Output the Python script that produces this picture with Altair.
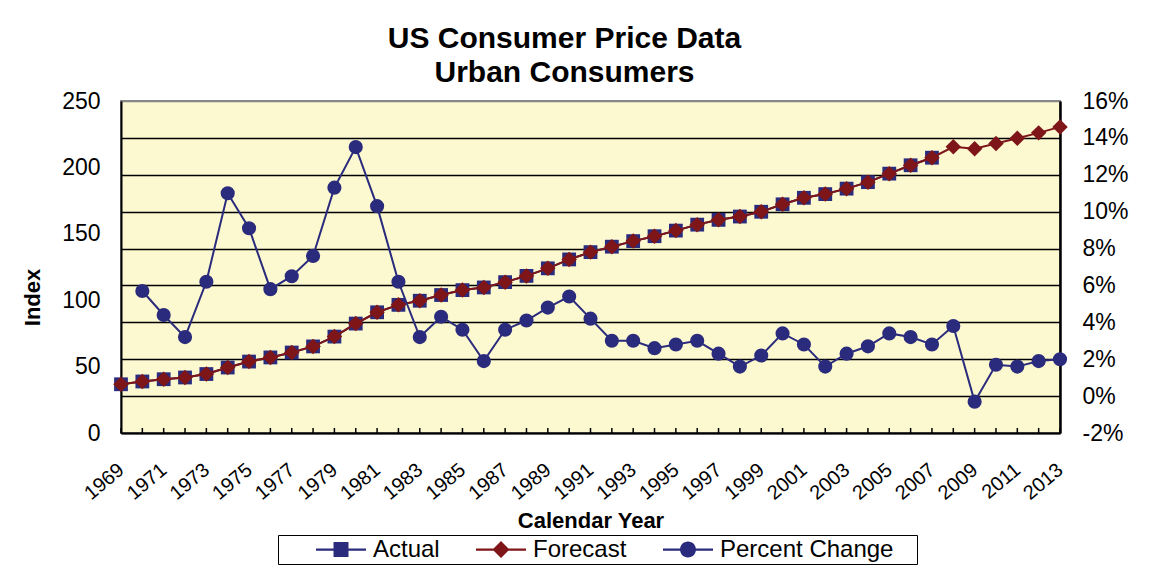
import altair as alt
import pandas as pd

# ---------------- data ----------------
years = list(range(1969, 2014))

actual_years = list(range(1969, 2008))
actual_cpi = [36.7, 38.8, 40.5, 41.8, 44.4, 49.3, 53.8, 56.9, 60.6, 65.2,
              72.6, 82.4, 90.9, 96.5, 99.6, 103.9, 107.6, 109.6, 113.6, 118.3,
              124.0, 130.7, 136.2, 140.3, 144.5, 148.2, 152.4, 156.9, 160.5, 163.0,
              166.6, 172.2, 177.1, 179.9, 184.0, 188.9, 195.3, 201.6, 207.3]

forecast_years = list(range(1969, 2014))
forecast_cpi = [36.7, 38.8, 40.5, 41.8, 44.4, 49.3, 53.8, 56.9, 60.6, 65.2,
                72.6, 82.4, 90.9, 96.5, 99.6, 103.9, 107.6, 109.6, 113.6, 118.3,
                124.0, 130.7, 136.2, 140.3, 144.5, 148.2, 152.4, 156.9, 160.5, 163.0,
                166.6, 172.2, 177.1, 179.9, 184.0, 188.9, 195.3, 201.6, 207.3,
                215.5, 214.0, 218.0, 222.0, 226.0, 230.5]

pct_years = list(range(1970, 2014))
pct_change = [5.7, 4.4, 3.2, 6.2, 11.0, 9.1, 5.8, 6.5, 7.6, 11.3,
              13.5, 10.3, 6.2, 3.2, 4.3, 3.6, 1.9, 3.6, 4.1, 4.8,
              5.4, 4.2, 3.0, 3.0, 2.6, 2.8, 3.0, 2.3, 1.6, 2.2,
              3.4, 2.8, 1.6, 2.3, 2.7, 3.4, 3.2, 2.8, 3.8, -0.3,
              1.7, 1.6, 1.9, 2.0]

series_names = ["Actual", "Forecast", "Percent Change"]
left_ticks = [0, 50, 100, 150, 200, 250]
right_ticks = [-2, 0, 2, 4, 6, 8, 10, 12, 14, 16]

# ---------------- style ----------------
NAVY = "#2A2B7C"
RED = "#7E1518"
BG = "#FCF8D0"
FONT = "Liberation Sans"
W, H = 939, 332

df_a = pd.DataFrame({"year": actual_years, "value": actual_cpi})
df_f = pd.DataFrame({"year": forecast_years, "value": forecast_cpi})
df_p = pd.DataFrame({"year": pct_years, "value": pct_change})
df_y = pd.DataFrame({"year": years})
df_leg = pd.DataFrame({"series": series_names})

x_enc = alt.X(
    "year:Q",
    scale=alt.Scale(domain=[1969, 2013], nice=False, zero=False),
    axis=alt.Axis(
        values=years, format="d",
        labelExpr="datum.value % 2 === 1 ? datum.label : ''",
        labelAngle=320, labelAlign="right", labelBaseline="middle",
        labelPadding=34, labelFontSize=20, labelFont=FONT, labelColor="black",
        labelOverlap=False, labelFlush=False,
        tickSize=0, grid=False,
        domainColor="black", domainWidth=2,
        title="Calendar Year", titleFont=FONT, titleFontSize=22,
        titleFontWeight="bold", titleColor="black",
        titleY=94, titleBaseline="alphabetic",
    ),
)

y_left_scale = alt.Scale(domain=[0, 250], nice=False, zero=False)
y_left_axis = alt.Axis(
    values=left_ticks, grid=False, tickSize=0,
    labelFontSize=23, labelFont=FONT, labelColor="black", labelPadding=21,
    domainColor="black", domainWidth=2,
    title="Index", titleFont=FONT, titleFontSize=22, titleFontWeight="bold",
    titleColor="black", titleAngle=270, titleBaseline="middle",
    titleAlign="center", titleX=-89, titleY=196,
)
y_left = alt.Y("value:Q", scale=y_left_scale, axis=y_left_axis)

actual_line = alt.Chart(df_a).mark_line(color=NAVY, strokeWidth=2).encode(x=x_enc, y=y_left)
actual_pts = alt.Chart(df_a).mark_point(shape="square", filled=True, size=190,
                                        color=NAVY, opacity=1).encode(x=x_enc, y=y_left)
fc_line = alt.Chart(df_f).mark_line(color=RED, strokeWidth=2).encode(x=x_enc, y=y_left)
fc_pts = alt.Chart(df_f).mark_point(shape="diamond", filled=True, size=240,
                                    color=RED, opacity=1).encode(x=x_enc, y=y_left)
ticks = alt.Chart(df_y).mark_rule(color="black", strokeWidth=1.5).encode(
    x=x_enc, y=alt.datum(0), y2=alt.datum(3.8))

# legend-only layer (custom symbols: line + marker); its rows are filtered out
P_SQ = "M-1,-0.045H1V0.045H-1Z M-0.3,-0.3H0.3V0.3H-0.3Z"
P_DI = "M-1,-0.045H1V0.045H-1Z M0,-0.34L0.34,0L0,0.34L-0.34,0Z"
P_CI = "M-1,-0.045H1V0.045H-1Z M-0.32,0A0.32,0.32 0 1,1 0.32,0A0.32,0.32 0 1,1 -0.32,0Z"

legend_layer = alt.Chart(df_leg).transform_filter("false").mark_point(filled=True, opacity=1).encode(
    x=alt.datum(1990), y=alt.datum(100),
    color=alt.Color("series:N",
                    scale=alt.Scale(domain=series_names, range=[NAVY, RED, NAVY]),
                    legend=alt.Legend(
                        title=" ", titleOrient="right", titlePadding=22,
                        titleFontSize=10,
                        orient="none", legendX=157, legendY=434,
                        direction="horizontal", symbolSize=2500, clipHeight=25,
                        symbolStrokeWidth=0, symbolOpacity=1,
                        symbolOffset=36, columnPadding=0, labelOffset=7,
                        labelFontSize=24, labelFont=FONT, labelColor="black",
                        labelLimit=400, padding=2, strokeColor="black",
                        fillColor="white",
                    )),
    shape=alt.Shape("series:N",
                    scale=alt.Scale(domain=series_names, range=[P_SQ, P_DI, P_CI])),
)

left = alt.layer(ticks, actual_line, actual_pts, fc_line, fc_pts, legend_layer)

y_right = alt.Y(
    "value:Q",
    scale=alt.Scale(domain=[-2, 16], nice=False, zero=False),
    axis=alt.Axis(
        orient="right", values=right_ticks, tickSize=0,
        labelExpr="datum.value + '%'",
        labelFontSize=23, labelFont=FONT, labelColor="black", labelPadding=22,
        grid=True, gridWidth=1.5,
        gridColor={"condition": {"test": "datum.value === 16", "value": "#888888"},
                   "value": "black"},
        domainColor="black", domainWidth=2.5, title=None,
    ),
)
pct_line = alt.Chart(df_p).mark_line(color=NAVY, strokeWidth=2).encode(x=x_enc, y=y_right)
pct_pts = alt.Chart(df_p).mark_circle(size=200, color=NAVY, opacity=1).encode(x=x_enc, y=y_right)
right = alt.layer(pct_line, pct_pts)

chart = (
    alt.layer(left, right)
    .resolve_scale(y="independent")
    .properties(
        width=W, height=H,
        autosize=alt.AutoSizeParams(type="none"),
        padding={"left": 113, "top": 93, "right": 83, "bottom": 133},
        title=alt.TitleParams(
            text=["US Consumer Price Data", "Urban Consumers"],
            font=FONT, fontSize=30, fontWeight="bold", color="black",
            anchor="middle", dx=-26, offset=2, lineHeight=34,
        ),
    )
    .configure_view(fill=BG, stroke="#888888", strokeWidth=2)
)

chart.save("out.html", embed_options={"renderer": "svg", "actions": False})
